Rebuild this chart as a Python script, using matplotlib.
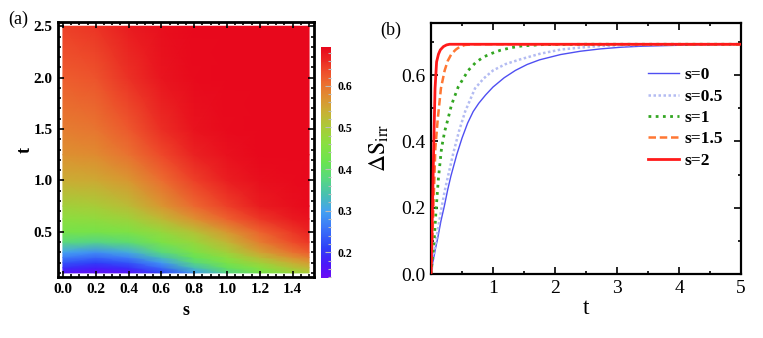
import numpy as np
import matplotlib
matplotlib.use('Agg')
import matplotlib.pyplot as plt
import matplotlib.ticker as ticker
from matplotlib.colors import LinearSegmentedColormap

plt.rcParams['font.family'] = ['Liberation Serif', 'DejaVu Serif']
plt.rcParams['mathtext.fontset'] = 'stix'

# panel (a): Delta S over (s, t)
s_grid = [0.0, 0.2, 0.4, 0.6, 0.8, 1.0, 1.2, 1.4, 1.5]
t_grid = [0.1, 0.15, 0.2, 0.25, 0.3, 0.4, 0.5, 0.625, 0.75, 1.0, 1.25, 1.5, 2.0, 2.5]
ds_map = [
    [0.160, 0.150, 0.160, 0.210, 0.290, 0.370, 0.430, 0.480, 0.500],
    [0.195, 0.180, 0.195, 0.250, 0.335, 0.405, 0.460, 0.510, 0.530],
    [0.230, 0.210, 0.230, 0.290, 0.380, 0.440, 0.490, 0.540, 0.560],
    [0.265, 0.245, 0.270, 0.335, 0.410, 0.465, 0.520, 0.570, 0.590],
    [0.300, 0.280, 0.310, 0.380, 0.440, 0.490, 0.550, 0.600, 0.620],
    [0.380, 0.370, 0.390, 0.440, 0.480, 0.530, 0.590, 0.635, 0.650],
    [0.435, 0.435, 0.445, 0.475, 0.515, 0.565, 0.615, 0.650, 0.665],
    [0.465, 0.470, 0.485, 0.525, 0.570, 0.615, 0.650, 0.675, 0.682],
    [0.490, 0.500, 0.520, 0.565, 0.610, 0.645, 0.672, 0.685, 0.690],
    [0.540, 0.545, 0.565, 0.605, 0.645, 0.670, 0.685, 0.690, 0.693],
    [0.570, 0.578, 0.600, 0.638, 0.665, 0.683, 0.692, 0.693, 0.693],
    [0.590, 0.598, 0.625, 0.658, 0.680, 0.690, 0.693, 0.693, 0.693],
    [0.620, 0.628, 0.655, 0.678, 0.690, 0.693, 0.693, 0.693, 0.693],
    [0.645, 0.652, 0.672, 0.686, 0.692, 0.693, 0.693, 0.693, 0.693],
]
cbar_ticks = [0.2, 0.3, 0.4, 0.5, 0.6]

# panel (b): Delta S_irr vs t for several s
curves = {
    's=0': ([0, 0.03, 0.07, 0.11, 0.16, 0.215, 0.27, 0.32, 0.415, 0.5, 0.59, 0.68, 0.77, 0.88, 1.0,
             1.18, 1.36, 1.55, 1.75, 2.09, 2.41, 2.73, 3.06, 3.38, 4.0, 5.0],
            [0, 0.035, 0.075, 0.11, 0.16, 0.205, 0.255, 0.295, 0.36, 0.41, 0.455, 0.49, 0.515, 0.54, 0.564,
             0.592, 0.614, 0.632, 0.646, 0.662, 0.672, 0.679, 0.684, 0.687, 0.690, 0.693]),
    's=0.5': ([0, 0.04, 0.08, 0.12, 0.17, 0.22, 0.28, 0.36, 0.45, 0.55, 0.71, 0.85, 1.0, 1.2, 1.43,
               1.75, 2.09, 2.41, 2.73, 3.06, 3.6, 5.0],
              [0, 0.05, 0.10, 0.145, 0.20, 0.25, 0.30, 0.365, 0.43, 0.49, 0.56, 0.59, 0.614, 0.633, 0.647,
               0.664, 0.677, 0.683, 0.688, 0.690, 0.692, 0.693]),
    's=1': ([0, 0.03, 0.05, 0.08, 0.12, 0.17, 0.22, 0.27, 0.33, 0.44, 0.6, 0.72, 0.85, 1.0, 1.12,
             1.3, 1.47, 1.8, 2.5, 5.0],
            [0, 0.06, 0.10, 0.19, 0.29, 0.38, 0.43, 0.465, 0.51, 0.565, 0.614, 0.638, 0.655, 0.667, 0.675,
             0.683, 0.688, 0.692, 0.693, 0.693]),
    's=1.5': ([0, 0.02, 0.04, 0.07, 0.11, 0.16, 0.22, 0.27, 0.33, 0.4, 0.47, 0.55, 0.7, 5.0],
              [0, 0.10, 0.21, 0.38, 0.47, 0.56, 0.614, 0.643, 0.664, 0.677, 0.686, 0.691, 0.693, 0.693]),
    's=2': ([0, 0.015, 0.03, 0.045, 0.065, 0.09, 0.12, 0.15, 0.2, 0.25, 0.3, 5.0],
            [0, 0.12, 0.26, 0.40, 0.56, 0.64, 0.663, 0.676, 0.686, 0.691, 0.693, 0.693]),
}
styles = {
    's=0': dict(color='#4f4ff2', lw=1.0, ls='-'),
    's=0.5': dict(color='#b4bcf2', lw=1.8, ls=(0, (1, 1))),
    's=1': dict(color='#33a622', lw=2.0, ls=(0, (1, 1.6))),
    's=1.5': dict(color='#ff7733', lw=1.8, ls=(0, (3, 1.5))),
    's=2': dict(color='#ff1a1a', lw=2.0, ls='-'),
}

rainbow = LinearSegmentedColormap.from_list('rainbow_m', [
    (0.00, '#6a0cf5'), (0.06, '#4a18f8'), (0.13, '#2e40f8'), (0.22, '#3c78f8'),
    (0.29, '#44a2f0'), (0.36, '#48c0b0'), (0.43, '#58d880'), (0.50, '#6ae450'),
    (0.58, '#88e040'), (0.65, '#a8cc38'), (0.72, '#c8b034'), (0.79, '#e08c30'),
    (0.85, '#ec6a30'), (0.90, '#ee4a2a'), (0.95, '#ea2422'), (1.00, '#e8081c')])
vmin, vmax = 0.138, 0.693

fig = plt.figure(figsize=(7.63, 3.38), dpi=100)

# ---- panel (a)
ax1 = fig.add_axes([0.076, 0.1805, 0.3355, 0.754])
S, T = np.meshgrid(s_grid, t_grid)
mesh = ax1.pcolormesh(S, T, np.array(ds_map), shading='gouraud', cmap=rainbow, vmin=vmin, vmax=vmax)
ax1.set_xlim(-0.03, 1.53)
ax1.set_ylim(0.06, 2.54)
ax1.set_xticks([0.0, 0.2, 0.4, 0.6, 0.8, 1.0, 1.2, 1.4])
ax1.set_yticks([0.5, 1.0, 1.5, 2.0, 2.5])
ax1.xaxis.set_minor_locator(ticker.MultipleLocator(0.05))
ax1.yaxis.set_minor_locator(ticker.MultipleLocator(0.1))
ax1.xaxis.set_major_formatter(ticker.FormatStrFormatter('%.1f'))
ax1.yaxis.set_major_formatter(ticker.FormatStrFormatter('%.1f'))
ax1.tick_params(which='both', direction='in', top=True, right=True, width=1.2)
ax1.tick_params(which='major', length=4, labelsize=11, pad=4)
ax1.tick_params(which='minor', length=2)
for lab in ax1.get_xticklabels() + ax1.get_yticklabels():
    lab.set_fontweight('bold')
for sp in ax1.spines.values():
    sp.set_linewidth(2)
ax1.set_xlabel('s', fontsize=13, fontweight='bold', labelpad=5)
ax1.set_ylabel('t', fontsize=13, fontweight='bold', labelpad=0, rotation=90)
fig.text(0.024, 0.944, '(a)', fontsize=13, ha='center', va='center')

cax = fig.add_axes([0.4207, 0.1775, 0.0131, 0.683])
cb = fig.colorbar(mesh, cax=cax, ticks=cbar_ticks)
cb.outline.set_visible(False)
cax.yaxis.set_minor_locator(ticker.MultipleLocator(0.02))
cax.tick_params(which='both', direction='in', color='#bbbbbb', width=0.8)
cax.tick_params(which='major', length=4, labelsize=8.5, pad=5)
cax.tick_params(which='minor', length=2)
for lab in cax.get_yticklabels():
    lab.set_fontweight('bold')

# ---- panel (b)
ax2 = fig.add_axes([0.5649, 0.1893, 0.4063, 0.7435])
for name, (tv, dv) in curves.items():
    ax2.plot(tv, dv, label=name, zorder=3 if name == 's=2' else 2, **styles[name])
ax2.set_xlim(0, 5)
ax2.set_ylim(0, 0.758)
ax2.set_xticks([0, 1, 2, 3, 4, 5])
ax2.set_yticks([0.0, 0.2, 0.4, 0.6])
ax2.xaxis.set_major_formatter(ticker.FuncFormatter(lambda x, pos: '' if x == 0 else '%d' % x))
ax2.yaxis.set_major_formatter(ticker.FormatStrFormatter('%.1f'))
ax2.xaxis.set_minor_locator(ticker.MultipleLocator(0.5))
ax2.yaxis.set_minor_locator(ticker.MultipleLocator(0.1))
ax2.tick_params(which='both', direction='in', top=True, right=True, width=1.2)
ax2.tick_params(which='major', length=5, labelsize=14, pad=4)
ax2.tick_params(which='minor', length=2.5)
for sp in ax2.spines.values():
    sp.set_linewidth(1.6)
ax2.set_xlabel('t', fontsize=17, labelpad=1)
ax2.set_ylabel(r'$\Delta\mathrm{S}_{\mathrm{irr}}$', fontsize=17, labelpad=7)
leg = ax2.legend(loc='upper left', bbox_to_anchor=(0.65, 0.885), frameon=False,
                 prop={'weight': 'bold', 'size': 12.5}, handlelength=1.75,
                 labelspacing=0.3, handletextpad=0.35)
fig.text(0.512, 0.91, '(b)', fontsize=13, ha='center', va='center')

fig.savefig('out.png', dpi=100)
